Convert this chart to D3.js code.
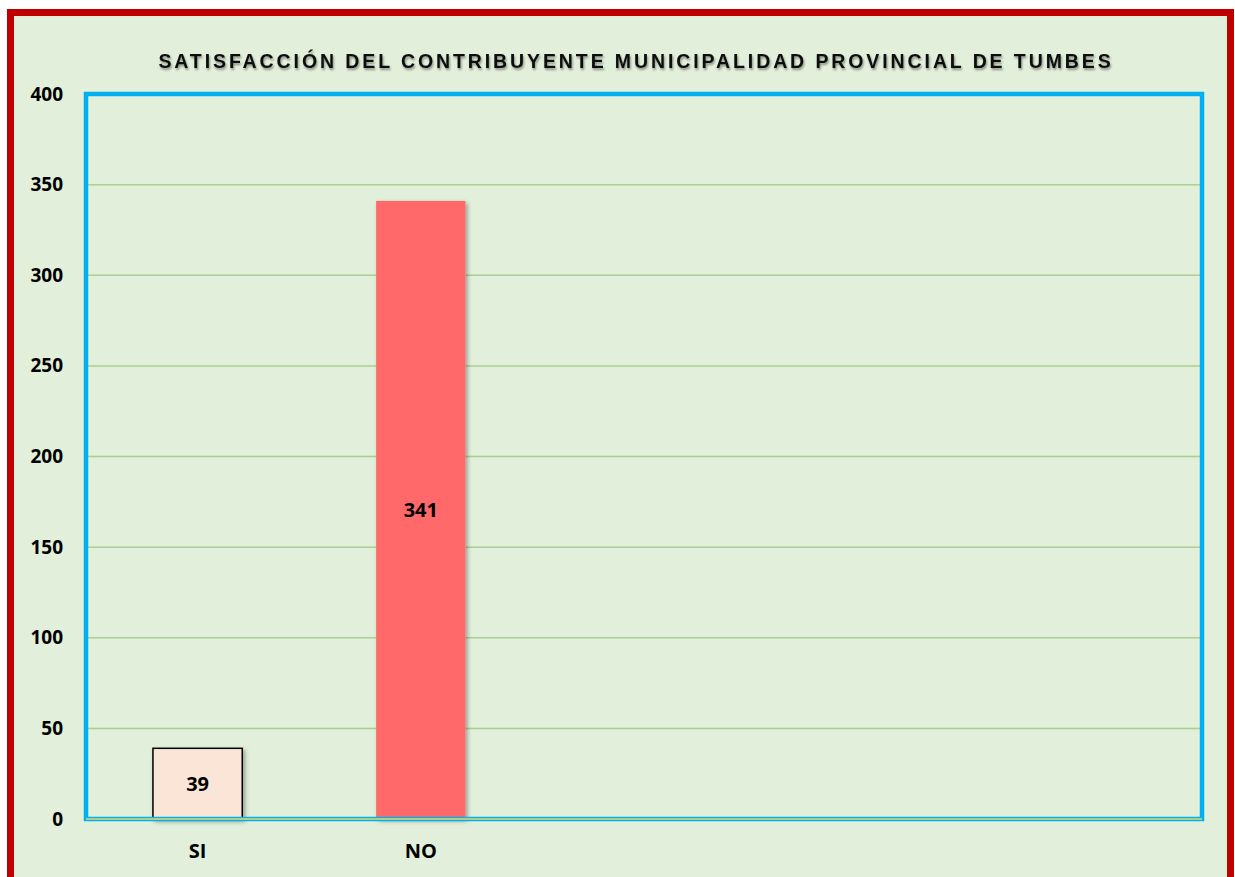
<!DOCTYPE html>
<html>
  <head>
    <meta charset="utf-8">
    <title>Satisfacción del contribuyente</title>
    <script src="https://cdn.jsdelivr.net/npm/d3@7"></script>
    <style>
      html, body { margin: 0; padding: 0; background: #ffffff; }
      svg { display: block; }
    </style>
  </head>
  <body>
    <svg width="1235" height="877"></svg>
    <script>
      // chart data
      var title = "SATISFACCIÓN DEL CONTRIBUYENTE MUNICIPALIDAD PROVINCIAL DE TUMBES";
      var categories = ["SI", "NO"];
      var values = [39, 341];
      var barColors = ["#FBE5D6", "#FF6969"];
      var yTicks = [0, 50, 100, 150, 200, 250, 300, 350, 400];
      var slots = 5; // the category axis leaves room for five columns

      var svg = d3.select("svg");

      // shadow filter for title and bars
      var defs = svg.append("defs");
      var f = defs.append("filter").attr("id", "shadow")
        .attr("x", "-20%").attr("y", "-20%").attr("width", "140%").attr("height", "140%");
      f.append("feDropShadow").attr("dx", 2).attr("dy", 2).attr("stdDeviation", 2)
        .attr("flood-color", "#000").attr("flood-opacity", 0.35);
      var ft = defs.append("filter").attr("id", "tshadow")
        .attr("x", "-5%").attr("y", "-50%").attr("width", "110%").attr("height", "200%");
      ft.append("feDropShadow").attr("dx", 1).attr("dy", 2).attr("stdDeviation", 1.2)
        .attr("flood-color", "#000").attr("flood-opacity", 0.4);

      // chart area with red frame
      svg.append("rect")
        .attr("x", 10.5).attr("y", 12.5).attr("width", 1220).attr("height", 880)
        .attr("fill", "#E2EFDA").attr("stroke", "#C00000").attr("stroke-width", 7);

      svg.append("text")
        .attr("x", 636).attr("y", 68)
        .attr("text-anchor", "middle")
        .attr("font-family", "Liberation Sans, Arial, sans-serif")
        .attr("font-weight", "bold").attr("font-size", 19.5)
        .attr("letter-spacing", 2.9)
        .attr("fill", "#111")
        .attr("filter", "url(#tshadow)")
        .text(title);

      var plotLeft = 86, plotRight = 1202, plotTop = 94, plotBottom = 819;

      var x = d3.scaleBand()
        .domain(d3.range(slots))
        .range([plotLeft, plotRight])
        .paddingInner(0.6).paddingOuter(0.3);

      var y = d3.scaleLinear().domain([0, 400]).range([plotBottom, plotTop]);

      // gridlines
      svg.append("g")
        .selectAll("line")
        .data(yTicks.slice(1))
        .enter().append("line")
        .attr("x1", plotLeft).attr("x2", plotRight)
        .attr("y1", function (d) { return y(d); })
        .attr("y2", function (d) { return y(d); })
        .attr("stroke", "#A9D08E").attr("stroke-width", 1.5);

      // y axis labels
      var yAxis = d3.axisLeft(y).tickValues(yTicks).tickSize(0).tickPadding(0);
      var ga = svg.append("g").attr("transform", "translate(63,0)").call(yAxis);
      ga.select(".domain").remove();
      ga.selectAll("text")
        .attr("font-family", "Open Sans, sans-serif")
        .attr("font-weight", "bold").attr("font-size", 19)
        .attr("fill", "#000");

      // bars
      svg.append("g")
        .selectAll("rect")
        .data(values)
        .enter().append("rect")
        .attr("x", function (d, i) { return x(i); })
        .attr("y", function (d) { return y(d); })
        .attr("width", x.bandwidth())
        .attr("height", function (d) { return y(0) - y(d); })
        .attr("fill", function (d, i) { return barColors[i]; })
        .attr("stroke", function (d, i) { return i === 0 ? "#000" : "none"; })
        .attr("stroke-width", 1.5)
        .attr("filter", "url(#shadow)");

      // value labels
      svg.append("g")
        .selectAll("text")
        .data(values)
        .enter().append("text")
        .attr("x", function (d, i) { return x(i) + x.bandwidth() / 2; })
        .attr("y", function (d) { return (y(d) + y(0)) / 2; })
        .attr("dy", "0.35em")
        .attr("text-anchor", "middle")
        .attr("font-family", "Open Sans, sans-serif")
        .attr("font-weight", "bold").attr("font-size", 20)
        .text(function (d) { return d; });

      // category labels
      var xAxis = d3.axisBottom(x).tickSize(0).tickPadding(0)
        .tickFormat(function (i) { return categories[i] || ""; });
      var gx = svg.append("g").attr("transform", "translate(0,844)").call(xAxis);
      gx.select(".domain").remove();
      gx.selectAll("text")
        .attr("font-family", "Open Sans, sans-serif")
        .attr("font-weight", "bold").attr("font-size", 20)
        .attr("fill", "#000");

      // plot frame, then the green baseline inside its bottom edge
      svg.append("rect")
        .attr("x", plotLeft).attr("y", plotTop).attr("width", plotRight - plotLeft).attr("height", plotBottom - plotTop)
        .attr("fill", "none").attr("stroke", "#00B0F0").attr("stroke-width", 4.5);
      svg.append("line")
        .attr("x1", plotLeft).attr("x2", plotRight).attr("y1", plotBottom).attr("y2", plotBottom)
        .attr("stroke", "#A9D08E").attr("stroke-width", 2);
    </script>
  </body>
</html>
